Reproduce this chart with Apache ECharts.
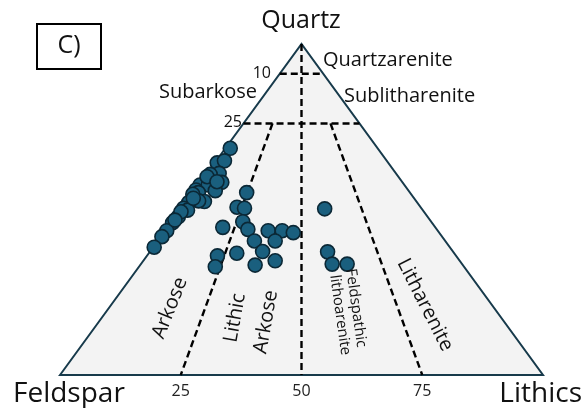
<!DOCTYPE html>
<html>
<head>
<meta charset="utf-8">
<script src="https://cdn.jsdelivr.net/npm/echarts@6/dist/echarts.min.js"></script>
<style>
  html, body { margin: 0; padding: 0; background: #fff; }
  #chart { width: 584px; height: 408px; }
</style>
</head>
<body>
<div id="chart"></div>
<script>
// sample composition (%)
const quartz   = [68.5, 64.1, 64.7, 60.9, 60.6, 58.2, 58.9, 57.4, 55.9, 57.4, 55.7, 55.1, 54.6, 52.4, 52.6, 52.1, 50.4, 49.8, 47.8, 46.0, 43.6, 41.8, 38.6, 59.9, 58.4, 53.4, 49.3, 46.8,
                  55.1, 50.7, 50.4, 44.6, 46.3, 44.0, 43.6, 43.6, 43.0, 40.5, 40.5, 37.3, 36.8, 36.0, 32.7, 33.2, 34.5, 50.2, 37.2, 33.5, 33.5];
const feldspar = [30.5, 35.4, 33.6, 36.6, 38.6, 37.4, 40.1, 42.3, 43.9, 40.6, 40.0, 43.8, 45.2, 43.9, 45.0, 47.3, 49.2, 48.7, 51.6, 53.7, 56.1, 58.0, 61.2, 39.6, 38.3, 45.7, 50.3, 52.8,
                  33.8, 38.0, 36.6, 44.0, 39.0, 39.1, 35.1, 32.2, 30.2, 39.5, 35.2, 39.4, 45.0, 49.4, 51.5, 43.0, 38.2, 20.1, 26.0, 26.9, 23.8];
const lithics  = [1.0, 0.5, 1.7, 2.5, 0.8, 4.4, 1.0, 0.3, 0.2, 2.0, 4.3, 1.1, 0.2, 3.7, 2.4, 0.6, 0.4, 1.5, 0.6, 0.3, 0.3, 0.2, 0.2, 0.5, 3.3, 0.9, 0.4, 0.4,
                  11.1, 11.3, 13.0, 11.4, 14.7, 16.9, 21.3, 24.2, 26.8, 20.0, 24.3, 23.3, 18.2, 14.6, 15.8, 23.8, 27.3, 29.7, 36.8, 39.6, 42.7];

// classification lines
const quartzLevels = [91, 76];            // drawn levels of the 10 / 25 lines
const quartzLevelLabels = ["10", "25"];
const ratioLines = [0.25, 0.75];          // L/(F+L) from the 25 line down to the base
const baseTicks = [25, 50, 75];

// ternary (Q, F, L) -> cartesian, base 0..100, apex at 100
function tern(q, f, l) {
  const s = q + f + l;
  q = q / s * 100; l = l / s * 100;
  return [l + q / 2, q];
}

const points = quartz.map((q, i) => tern(q, feldspar[i], lithics[i]));

const dash = { color: "#000", width: 2.4, type: [7, 4] };
const lines = [];
// horizontal quartz lines
quartzLevels.forEach((q) => {
  lines.push([tern(q, 100 - q, 0), tern(q, 0, 100 - q)]);
});
// centre line from the apex
lines.push([tern(100, 0, 0), tern(0, 50, 50)]);
// ratio lines
ratioLines.forEach((r) => {
  const q = quartzLevels[1];
  lines.push([tern(q, (100 - q) * (1 - r), (100 - q) * r), tern(0, 100 * (1 - r), 100 * r)]);
});

const lineSeries = lines.map((seg) => ({
  type: "line",
  data: seg,
  symbol: "none",
  silent: true,
  z: 3,
  lineStyle: dash,
}));

let myChart = echarts.init(document.getElementById("chart"));
const font = "Open Sans, Noto Sans, sans-serif";

function txt(x, y, text, size, rot, align) {
  return {
    type: "text",
    x: x,
    y: y,
    rotation: (rot || 0) * Math.PI / 180,
    z: 10,
    style: {
      text: text,
      fontSize: size,
      fontFamily: font,
      fill: "#111",
      align: align || "center",
      verticalAlign: "middle",
    },
  };
}

myChart.setOption({
  animation: false,
  grid: { left: 60, right: 41, top: 44, bottom: 33 },
  xAxis: {
    type: "value",
    min: 0,
    max: 100,
    interval: 25,
    splitLine: { show: false },
    axisLine: { show: false },
    axisTick: { show: false },
    axisLabel: {
      margin: 8,
      fontSize: 16,
      fontFamily: font,
      color: "#222",
      formatter: (v) => (baseTicks.indexOf(v) >= 0 ? String(v) : ""),
    },
  },
  yAxis: {
    type: "value",
    min: 0,
    max: 100,
    show: false,
  },
  series: [
    {
      type: "custom",
      silent: true,
      z: 1,
      data: [0],
      renderItem: (params, api) => ({
        type: "polygon",
        shape: { points: [tern(0, 100, 0), tern(100, 0, 0), tern(0, 0, 100)].map((p) => api.coord(p)) },
        style: { fill: "#f3f3f3", stroke: "#173a4b", lineWidth: 2 },
      }),
    },
    ...lineSeries,
    {
      type: "scatter",
      data: points,
      symbolSize: 14,
      z: 5,
      itemStyle: { color: "#1a5f7e", borderColor: "#0b2836", borderWidth: 1.6, opacity: 1 },
    },
  ],
  graphic: [
    {
      type: "rect",
      shape: { x: 37, y: 24, width: 64, height: 45 },
      style: { fill: "#fff", stroke: "#000", lineWidth: 2 },
    },
    txt(69, 46, "C)", 25),
    txt(301, 21, "Quartz", 25),
    txt(13, 394, "Feldspar", 28, 0, "left"),
    txt(582, 394, "Lithics", 28, 0, "right"),
    txt(271, 73, quartzLevelLabels[0], 16, 0, "right"),
    txt(242, 122, quartzLevelLabels[1], 16, 0, "right"),
    txt(323, 60, "Quartzarenite", 20, 0, "left"),
    txt(344, 96, "Sublitharenite", 20, 0, "left"),
    txt(257, 92, "Subarkose", 20, 0, "right"),
    txt(170, 308, "Arkose", 20, 68),
    txt(235, 318, "Lithic", 20, 80),
    txt(266, 322, "Arkose", 20, 80),
    txt(356, 308, "Feldspathic", 15, -82),
    txt(340, 315, "lithoarenite", 15, -82),
    txt(425, 305, "Litharenite", 20, -63),
  ],
});
</script>
</body>
</html>
